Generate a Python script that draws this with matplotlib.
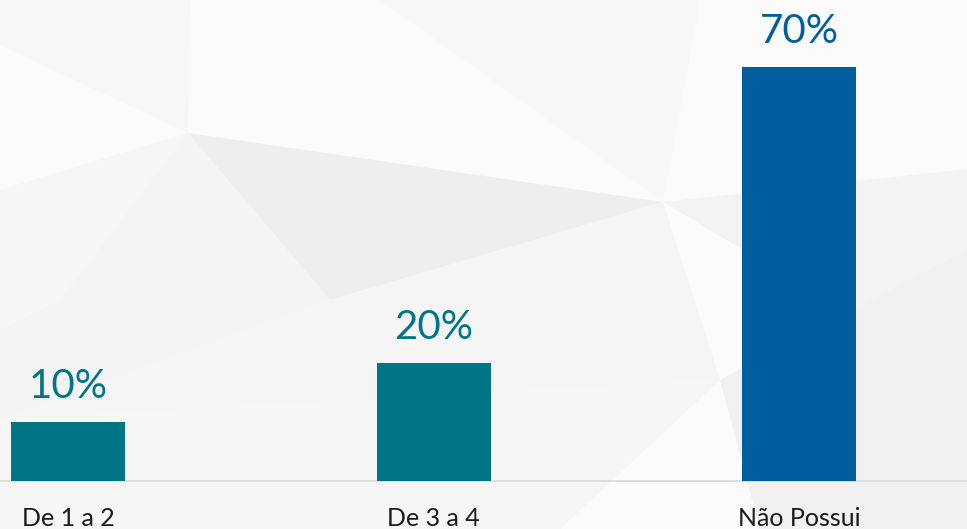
import matplotlib
matplotlib.use("Agg")
import matplotlib.pyplot as plt
from matplotlib.patches import Polygon

categories = ["De 1 a 2", "De 3 a 4", "Não Possui"]
values = [10, 20, 70]
labels = ["10%", "20%", "70%"]
colors = ["#007685", "#007685", "#005E9E"]

plt.rcParams['font.family'] = ['Lato', 'DejaVu Sans']

W, H = 967, 529
fig = plt.figure(figsize=(W / 100, H / 100), dpi=100)
fig.patch.set_facecolor("#fbfbfc")

# faint decorative background facets, given in pixels from top-left
facets_px = [
    ([(0, 0), (190, 0), (188, 133), (0, 45)], "#f7f7f8"),
    ([(188, 133), (663, 202), (330, 300)], "#eeeef0"),
    ([(0, 190), (188, 133), (60, 300), (0, 330)], "#f6f6f7"),
    ([(188, 133), (330, 300), (0, 420), (0, 330), (60, 300)], "#f4f4f5"),
    ([(330, 300), (663, 202), (720, 380), (0, 420)], "#f5f5f6"),
    ([(663, 202), (967, 169), (967, 300), (860, 320)], "#f3f3f5"),
    ([(720, 380), (967, 250), (967, 529), (760, 529)], "#f1f1f3"),
    ([(0, 420), (720, 380), (560, 529), (0, 529)], "#f6f6f7"),
    ([(380, 0), (700, 0), (663, 202)], "#f8f8f9"),
]
for pts, c in facets_px:
    fpts = [(px / W, 1 - py / H) for px, py in pts]
    fig.add_artist(Polygon(fpts, closed=True, transform=fig.transFigure,
                           facecolor=c, edgecolor="none", zorder=0))

base_px = 48.3
ax = fig.add_axes([0, base_px / H, 1, 1 - base_px / H])
ax.set_facecolor("none")

x = list(range(len(categories)))
ax.bar(x, values, width=0.312, color=colors, zorder=3)

ax.set_xlim(-68 / 365.7, (W - 68) / 365.7)
ax.set_ylim(0, (H - base_px) / 5.91)

for xi, v, lab, c in zip(x, values, labels, colors):
    ax.annotate(lab, (xi, v), xytext=(0, 17), textcoords="offset points",
                ha="center", va="baseline", fontsize=29, color=c)

ax.set_xticks(x)
ax.set_xticklabels(categories, fontsize=18, color="#1a1a1a")
ax.tick_params(axis="x", length=0, pad=19)
ax.set_yticks([])
for s in ["top", "left", "right"]:
    ax.spines[s].set_visible(False)
ax.spines["bottom"].set_color("#d9d9d9")
ax.spines["bottom"].set_linewidth(1.2)

fig.savefig("out.png", dpi=100, facecolor=fig.get_facecolor())
